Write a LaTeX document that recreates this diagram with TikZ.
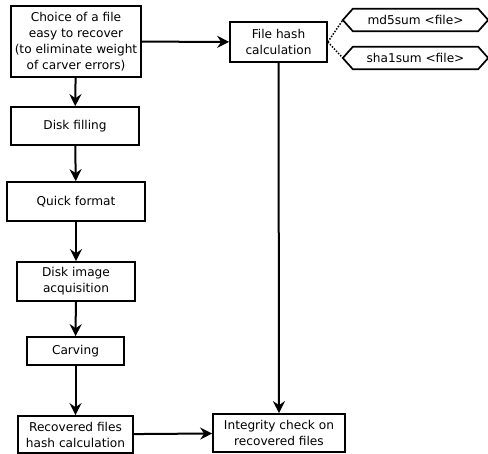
\documentclass[tikz,border=0pt]{standalone}
\usepackage{fontspec}
\setmainfont{DejaVu Sans}
\usetikzlibrary{arrows.meta}
\begin{document}
\begin{tikzpicture}[x=1bp,y=-1bp,
  box/.style={draw,line width=1.7bp,align=center,inner sep=1bp,font=\fontsize{12.2}{16}\selectfont},
  hexnode/.style={inner sep=0,minimum width=145bp,minimum height=22bp,font=\fontsize{12.2}{15}\selectfont},
  hexline/.style={line width=1.7bp},
  arr/.style={line width=2bp,-{Stealth[length=12bp,width=12bp,inset=4bp]}},
  dots/.style={line width=1.5bp,dash pattern=on 1.5bp off 1.5bp}]
\useasboundingbox (0,0) rectangle (488,454);
\node[box,minimum width=130bp,minimum height=71bp] (choice) at (76,41.5) {Choice of a file\\easy to recover\\(to eliminate weight\\of carver errors)};
\node[box,minimum width=128bp,minimum height=38bp] (fill) at (75,126) {Disk filling};
\node[box,minimum width=138bp,minimum height=39bp] (quick) at (76,201.5) {Quick format};
\node[box,minimum width=118bp,minimum height=39bp] (image) at (76,281.5) {Disk image\\acquisition};
\node[box,minimum width=97bp,minimum height=28bp] (carving) at (75.5,351) {Carving};
\node[box,minimum width=115bp,minimum height=37bp] (recov) at (75.5,434.5) {Recovered files\\hash calculation};
\node[box,minimum width=132bp,minimum height=38bp] (integ) at (279,433) {Integrity check on\\recovered files};
\node[box,minimum width=97bp,minimum height=40bp] (hash) at (278.5,42) {File hash\\calculation};
\node[hexnode] (md5) at (415.5,20) {md5sum <file>};
\node[hexnode] (sha) at (415.5,58) {sha1sum <file>};
\foreach \h in {md5,sha}{
  \draw[hexline] (\h.west) -- ([xshift=10bp]\h.north west) -- ([xshift=-10bp]\h.north east) -- (\h.east) -- ([xshift=-10bp]\h.south east) -- ([xshift=10bp]\h.south west) -- cycle;
}
\draw[dots] (hash.east) -- (md5.west);
\draw[dots] (hash.east) -- (sha.west);
\draw[arr] (choice) -- (fill);
\draw[arr] (fill) -- (quick);
\draw[arr] (quick) -- (image);
\draw[arr] (image) -- (carving);
\draw[arr] (carving) -- (recov);
\draw[arr] (choice) -- (hash);
\draw[arr] (hash) -- (integ);
\draw[arr] (recov) -- (integ);
\end{tikzpicture}
\end{document}
